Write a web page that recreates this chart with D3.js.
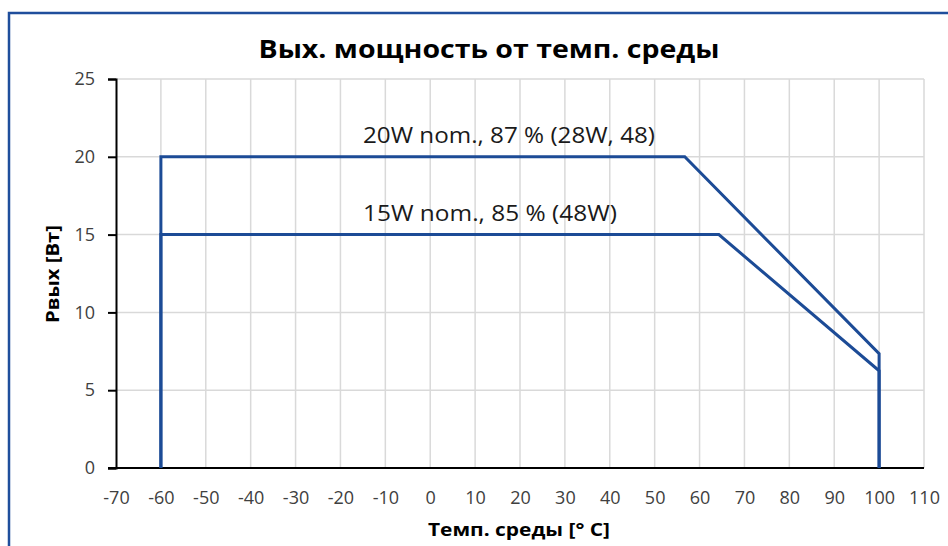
<!DOCTYPE html>
<html><head><meta charset="utf-8">
<script src="https://cdn.jsdelivr.net/npm/d3@7"></script>
<style>body{margin:0;background:#fff}svg{display:block}</style>
</head><body><svg id="c" width="948" height="546"></svg>
<script>
const title = "Вых. мощность от темп. среды";
const xTitle = "Темп. среды [° C]";
const yTitle = "Pвых [Вт]";
const xTicks = [-70,-60,-50,-40,-30,-20,-10,0,10,20,30,40,50,60,70,80,90,100,110];
const yTicks = [0,5,10,15,20,25];
const s20x = [-60,-60,56.7,100,100];
const s20y = [0,20,20,7.35,0];
const s15x = [-60,-60,64.3,100,100];
const s15y = [0,15,15,6.25,0];
const labels = ["20W nom., 87 % (28W, 48)", "15W nom., 85 % (48W)"];

const svg = d3.select("#c");
const F = "'Open Sans', 'Noto Sans', sans-serif";
// frame
svg.append("rect").attr("x",9).attr("y",13).attr("width",960).attr("height",560)
  .attr("fill","#fff").attr("stroke","#1f4e9c").attr("stroke-width",2.5);

const x = d3.scaleLinear().domain([-70,110]).range([116,924]);
const y = d3.scaleLinear().domain([0,25]).range([468,79]);

const g = svg.append("g");
g.selectAll(".vg").data(xTicks.filter(d=>d>-70)).join("line")
  .attr("x1",d=>x(d)).attr("x2",d=>x(d)).attr("y1",y(0)).attr("y2",y(25))
  .attr("stroke","#d9d9d9").attr("stroke-width",1.5);
g.selectAll(".hg").data(yTicks.filter(d=>d>0)).join("line")
  .attr("x1",x(-70)).attr("x2",x(110)).attr("y1",d=>y(d)).attr("y2",d=>y(d))
  .attr("stroke","#d9d9d9").attr("stroke-width",1.5);

const fmt = d => String(d);
// y axis
const ya = svg.append("g").attr("transform",`translate(${x(-70)},0)`)
  .call(d3.axisLeft(y).tickValues(yTicks).tickFormat(fmt).tickSize(8).tickPadding(13));
ya.select(".domain").attr("stroke","#000").attr("stroke-width",2);
ya.selectAll(".tick line").attr("stroke","#000").attr("stroke-width",2);
ya.selectAll("text").attr("font-family",F).attr("font-size",18).attr("fill","#404040");

// x axis
const xa = svg.append("g").attr("transform",`translate(0,${y(0)})`)
  .call(d3.axisBottom(x).tickValues(xTicks).tickFormat(fmt).tickSize(0).tickPadding(23));
xa.select(".domain").remove();
xa.selectAll("text").attr("font-family",F).attr("font-size",18).attr("fill","#404040");
svg.append("line").attr("x1",x(-70)-8).attr("x2",x(110)).attr("y1",y(0)).attr("y2",y(0))
  .attr("stroke","#000").attr("stroke-width",2);

const line = d3.line().x(d=>x(d[0])).y(d=>y(d[1])).curve(d3.curveLinear);
[[s20x,s20y],[s15x,s15y]].forEach(([xs,ys])=>{
  svg.append("path").attr("d",line(xs.map((v,i)=>[v,ys[i]])))
    .attr("fill","none").attr("stroke","#1c4b96").attr("stroke-width",3)
    .attr("stroke-linejoin","miter");
});

// annotations
svg.append("text").attr("x",363).attr("y",y(20)-14).text(labels[0])
  .attr("font-family",F).attr("font-size",21).attr("fill","#1a1a1a")
  .attr("textLength",292).attr("lengthAdjust","spacingAndGlyphs");
svg.append("text").attr("x",363).attr("y",y(15)-14).text(labels[1])
  .attr("font-family",F).attr("font-size",21).attr("fill","#1a1a1a")
  .attr("textLength",254).attr("lengthAdjust","spacingAndGlyphs");

// titles
svg.append("text").attr("x",489).attr("y",58).attr("text-anchor","middle").text(title)
  .attr("font-family",F).attr("font-weight","bold").attr("font-size",25).attr("fill","#000")
  .attr("textLength",461).attr("lengthAdjust","spacingAndGlyphs");
svg.append("text").attr("x",519).attr("y",536).attr("text-anchor","middle").text(xTitle)
  .attr("font-family",F).attr("font-weight","bold").attr("font-size",18).attr("fill","#000")
  .attr("textLength",182).attr("lengthAdjust","spacingAndGlyphs");
svg.append("text").attr("transform","translate(59,274) rotate(-90)").attr("text-anchor","middle").text(yTitle)
  .attr("font-family",F).attr("font-weight","bold").attr("font-size",18).attr("fill","#000")
  .attr("textLength",98).attr("lengthAdjust","spacingAndGlyphs");
</script></body></html>
